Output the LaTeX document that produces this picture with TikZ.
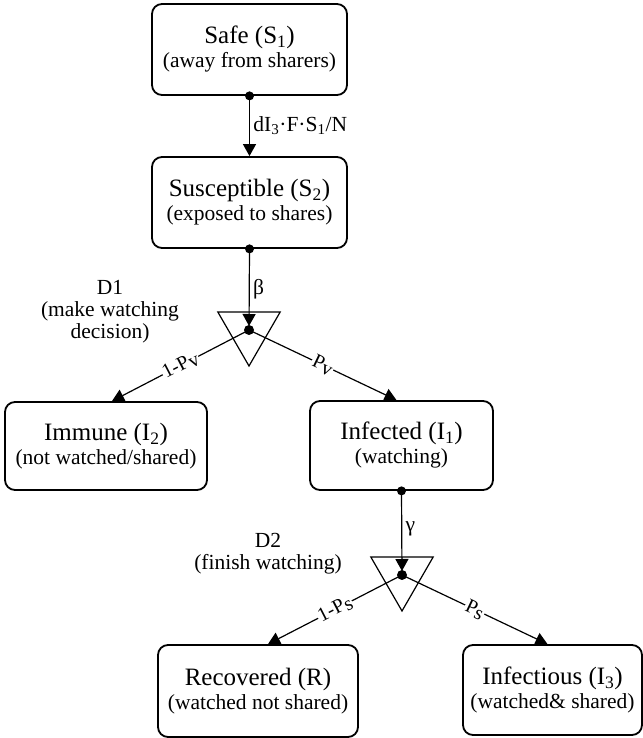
\documentclass[tikz,border=0pt]{standalone}
\usepackage{fontspec}
\setmainfont{Liberation Serif}
\usetikzlibrary{arrows.meta,shapes.geometric,positioning}

\tikzset{
  state/.style={draw, line width=1.8pt, rounded corners=10pt, align=center, inner sep=0pt,
    font=\fontsize{21.5}{24}\selectfont},
  flow/.style={line width=1.2pt, -{Triangle[length=12pt,width=13pt]}},
  decision/.style={draw, line width=1.2pt, regular polygon, regular polygon sides=3,
    shape border rotate=180, minimum size=72pt, inner sep=0pt},
  rate/.style={font=\fontsize{21.5}{22}\selectfont, align=center},
  prob/.style={midway, sloped, fill=white, inner sep=1pt, font=\fontsize{20}{22}\selectfont},
}
\newcommand{\statetext}[2]{{\fontsize{25}{24}\selectfont #1}\\#2}

\begin{document}
\begin{tikzpicture}[x=1pt,y=1pt]
\useasboundingbox (0,0) rectangle (642,738);

% states
\node[state, minimum width=195pt, minimum height=91pt] (safe) at (249.5,688.5)
  {\statetext{Safe (S\textsubscript{1})}{(away from sharers)}};
\node[state, minimum width=195pt, minimum height=91pt] (susc) at (249.5,535.5)
  {\statetext{Susceptible (S\textsubscript{2})}{(exposed to shares)}};
\node[state, minimum width=202pt, minimum height=88pt] (immune) at (106,292)
  {\statetext{Immune (I\textsubscript{2})}{(not watched/shared)}};
\node[state, minimum width=183pt, minimum height=89pt] (infected) at (401.5,292.5)
  {\statetext{Infected (I\textsubscript{1})}{(watching)}};
\node[state, minimum width=200pt, minimum height=92pt] (recovered) at (258,47)
  {\statetext{Recovered (R)}{(watched not shared)}};
\node[state, minimum width=179pt, minimum height=90pt] (infectious) at (552.5,48)
  {\statetext{Infectious (I\textsubscript{3})}{(watched\& shared)}};

% decisions
\node[decision] (d1) at (249,408) {};
\node[decision] (d2) at (402,163) {};
\node[rate] (d1lab) at (110,426) {D1\\(make watching\\decision)};
\node[rate] (d2lab) at (268,184) {D2\\(finish watching)};

% dots
\fill (safe.south) circle (4.5pt);
\fill (susc.south) circle (4.5pt);
\fill (infected.south) circle (4.5pt);
\fill (d1.center) circle (5pt);
\fill (d2.center) circle (5pt);

% flows
\draw[flow] (safe.south) -- node[right, rate] (r1) {dI\textsubscript{3}·F·S\textsubscript{1}/N} (susc.north);
\draw[flow, shorten >=4pt] (susc.south) -- node[right, rate] (r2) {β} (d1.center);
\draw[flow, shorten >=4pt] (infected.south) -- node[right, rate, pos=0.45] (r3) {γ} (d2.center);
\draw[flow] (d1.center) -- node[prob] {1-P\raisebox{-0.3ex}{v}} ([xshift=6pt]immune.north);
\draw[flow] (d1.center) -- node[prob] {P\raisebox{-0.3ex}{v}} ([xshift=-5pt]infected.north);
\draw[flow] (d2.center) -- node[prob] {1-P\raisebox{-0.3ex}{s}} ([xshift=10pt]recovered.north);
\draw[flow] (d2.center) -- node[prob] {P\raisebox{-0.3ex}{s}} ([xshift=-5pt]infectious.north);
\end{tikzpicture}
\end{document}
